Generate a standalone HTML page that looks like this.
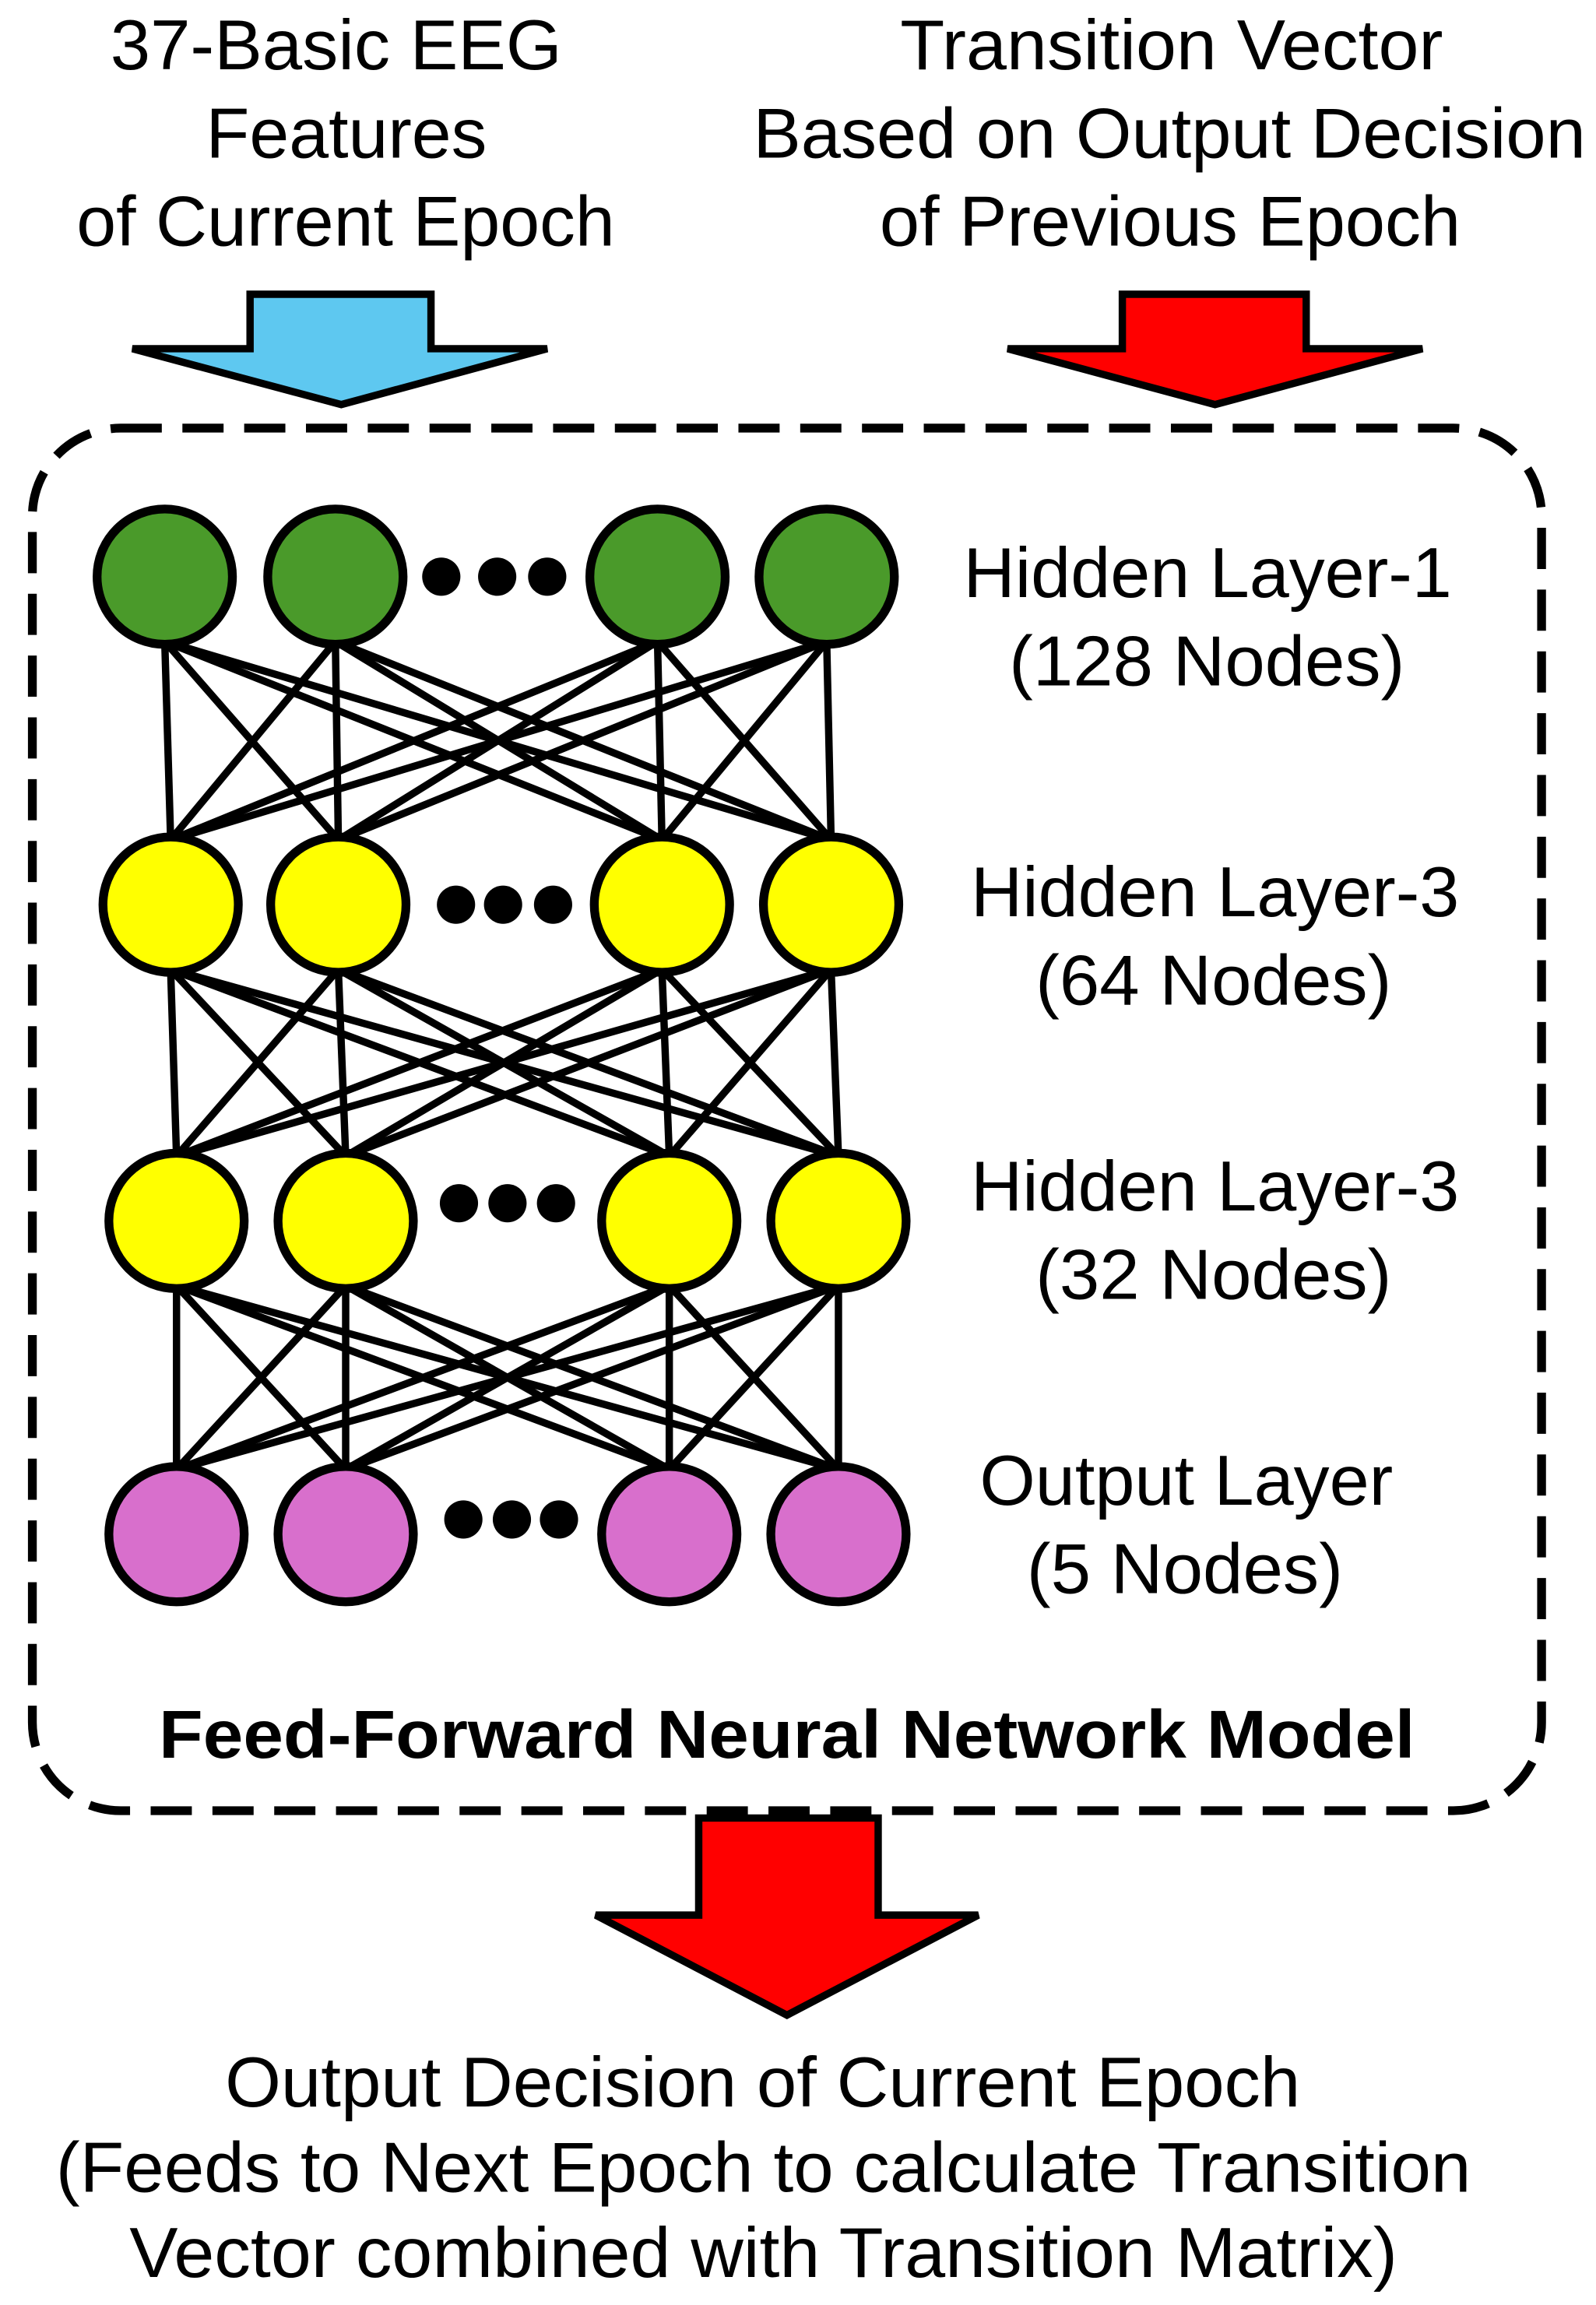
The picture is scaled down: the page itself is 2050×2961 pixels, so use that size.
<!DOCTYPE html>
<html><head><meta charset="utf-8"><style>
html,body{margin:0;padding:0;background:#fff;}
svg{display:block;}
text{font-family:"Liberation Sans",sans-serif;fill:#000;}
</style></head><body>
<svg width="2050" height="2961" viewBox="0 0 1085 1567" xmlns="http://www.w3.org/2000/svg">
<g font-size="48" lengthAdjust="spacingAndGlyphs">
<text x="75" y="47" textLength="307" lengthAdjust="spacingAndGlyphs">37-Basic EEG</text>
<text x="140" y="107" textLength="191" lengthAdjust="spacingAndGlyphs">Features</text>
<text x="52" y="167" textLength="366" lengthAdjust="spacingAndGlyphs">of Current Epoch</text>
<text x="612" y="47" textLength="369" lengthAdjust="spacingAndGlyphs">Transition Vector</text>
<text x="512" y="107" textLength="566" lengthAdjust="spacingAndGlyphs">Based on Output Decision</text>
<text x="598" y="167" textLength="395" lengthAdjust="spacingAndGlyphs">of Previous Epoch</text>
</g>
<polygon points="170,200 293,200 293,237 372,237 232,275 90,237 170,237" fill="#5ec8f0" stroke="#000" stroke-width="5"/>
<polygon points="763,200 888,200 888,237 967,237 826,275 685,237 763,237" fill="#ff0000" stroke="#000" stroke-width="5"/>
<rect x="22" y="291" width="1026" height="940" rx="60" ry="60" fill="none" stroke="#000" stroke-width="6" stroke-dasharray="28,14"/>
<g stroke="#000" stroke-width="5" id="lines"></g>
<g id="nodes" stroke="#000" stroke-width="6"></g>
<g font-size="48">
<text x="655" y="406" textLength="332" lengthAdjust="spacingAndGlyphs">Hidden Layer-1</text>
<text x="686" y="466" textLength="269" lengthAdjust="spacingAndGlyphs">(128 Nodes)</text>
<text x="660" y="623" textLength="332" lengthAdjust="spacingAndGlyphs">Hidden Layer-3</text>
<text x="704" y="683" textLength="242" lengthAdjust="spacingAndGlyphs">(64 Nodes)</text>
<text x="660" y="823" textLength="332" lengthAdjust="spacingAndGlyphs">Hidden Layer-3</text>
<text x="704" y="883" textLength="242" lengthAdjust="spacingAndGlyphs">(32 Nodes)</text>
<text x="666" y="1023" textLength="281" lengthAdjust="spacingAndGlyphs">Output Layer</text>
<text x="698" y="1083" textLength="215" lengthAdjust="spacingAndGlyphs">(5 Nodes)</text>
<text x="108" y="1195" font-weight="bold" font-size="46" textLength="854" lengthAdjust="spacingAndGlyphs">Feed-Forward Neural Network Model</text>
</g>
<polygon points="475,1236 597,1236 597,1302 665,1302 535,1370 405,1302 475,1302" fill="#ff0000" stroke="#000" stroke-width="5"/>
<g font-size="48">
<text x="153" y="1432" textLength="731" lengthAdjust="spacingAndGlyphs">Output Decision of Current Epoch</text>
<text x="38" y="1490" textLength="962" lengthAdjust="spacingAndGlyphs">(Feeds to Next Epoch to calculate Transition</text>
<text x="88" y="1548" textLength="862" lengthAdjust="spacingAndGlyphs">Vector combined with Transition Matrix)</text>
</g>
<script>
var L=[{xs:[112,228,447,562],y:392,c:"#4a9a2a",d:[[300,392],[338,392],[372,392]]},
{xs:[116,230,450,565],y:615,c:"#ffff00",d:[[310,615],[342,615],[376,615]]},
{xs:[120,235,455,570],y:830,c:"#ffff00",d:[[312,818],[345,818],[378,818]]},
{xs:[120,235,455,570],y:1043,c:"#d86fcc",d:[[315,1033],[348,1033],[380,1033]]}];
var ns="http://www.w3.org/2000/svg",lg=document.getElementById("lines"),ng=document.getElementById("nodes");
for(var i=0;i<3;i++){var a=L[i],b=L[i+1];for(var p=0;p<4;p++)for(var q=0;q<4;q++){var l=document.createElementNS(ns,"line");l.setAttribute("x1",a.xs[p]);l.setAttribute("y1",a.y+44);l.setAttribute("x2",b.xs[q]);l.setAttribute("y2",b.y-44);lg.appendChild(l);}}
L.forEach(function(a){a.xs.forEach(function(x){var c=document.createElementNS(ns,"circle");c.setAttribute("cx",x);c.setAttribute("cy",a.y);c.setAttribute("r",46);c.setAttribute("fill",a.c);ng.appendChild(c);});
a.d.forEach(function(d){var c=document.createElementNS(ns,"circle");c.setAttribute("cx",d[0]);c.setAttribute("cy",d[1]);c.setAttribute("r",13);c.setAttribute("fill","#000");c.setAttribute("stroke","none");ng.appendChild(c);});});
</script>
</svg>
</body></html>
